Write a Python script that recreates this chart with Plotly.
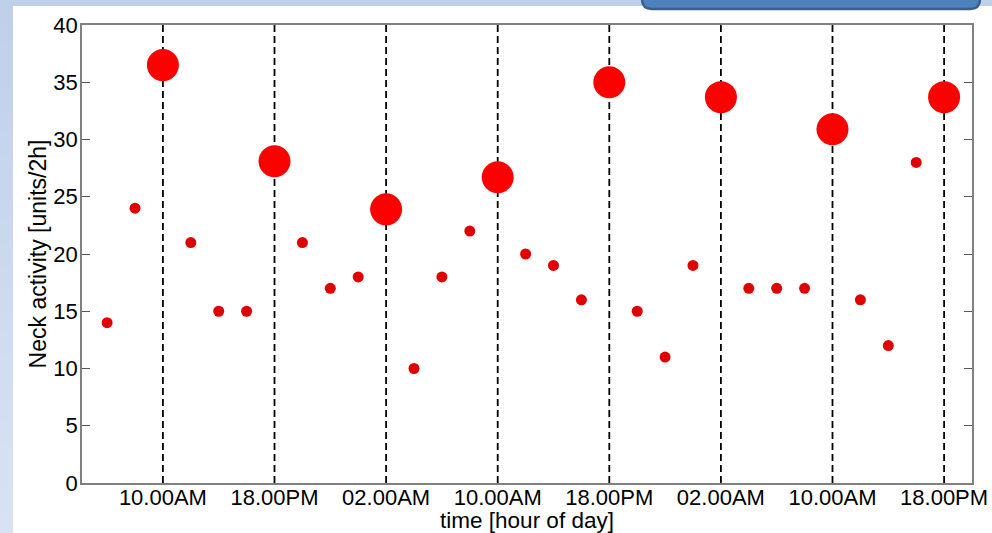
import plotly.graph_objects as go

# hours relative to first 10.00AM
small_hours = [-4, -2, 2, 4, 6, 10, 12, 14, 18, 20, 22, 26, 28, 30,
               34, 36, 38, 42, 44, 46, 50, 52, 54]
small_values = [14, 24, 21, 15, 15, 21, 17, 18, 10, 18, 22, 20, 19, 16,
                15, 11, 19, 17, 17, 17, 16, 12, 28]
big_hours = [0, 8, 16, 24, 32, 40, 48, 56]
big_values = [36.5, 28.1, 23.9, 26.7, 35.0, 33.7, 30.9, 33.7]
tick_hours = [0, 8, 16, 24, 32, 40, 48, 56]
tick_labels = ["10.00AM", "18.00PM", "02.00AM", "10.00AM",
               "18.00PM", "02.00AM", "10.00AM", "18.00PM"]

W, H = 992, 533
L, R, T, B = 82, 20, 25, 50
PW, PH = W - L - R, H - T - B

def px(x):
    return (x - L) / PW

def py(y):
    return (H - B - y) / PH

FONT = "Liberation Sans, Arial, Helvetica, sans-serif"

fig = go.Figure()
fig.add_trace(go.Scatter(x=small_hours, y=small_values, mode="markers",
                         marker=dict(size=11, color="#e00000", line=dict(width=0)),
                         showlegend=False, hoverinfo="x+y"))
fig.add_trace(go.Scatter(x=big_hours, y=big_values, mode="markers",
                         marker=dict(size=32, color="#ff0000", line=dict(width=0)),
                         showlegend=False, hoverinfo="x+y"))

shapes = []
# left background gradient strip (light blue)
n = 24
top_c = (192, 208, 234)
bot_c = (216, 226, 244)
for i in range(n):
    f = i / (n - 1)
    c = tuple(int(round(top_c[k] + (bot_c[k] - top_c[k]) * f)) for k in range(3))
    y0 = i * H / n
    y1 = (i + 1) * H / n + 1
    shapes.append(dict(type="rect", xref="paper", yref="paper",
                       x0=px(0), x1=px(13), y0=py(y1), y1=py(y0),
                       fillcolor="rgb(%d,%d,%d)" % c, line=dict(width=0), layer="below"))
# top strip
shapes.append(dict(type="rect", xref="paper", yref="paper",
                   x0=px(0), x1=px(W), y0=py(6), y1=py(0),
                   fillcolor="rgb(192,208,234)", line=dict(width=0), layer="below"))
# white panel
shapes.append(dict(type="rect", xref="paper", yref="paper",
                   x0=px(13), x1=px(W), y0=py(H), y1=py(6),
                   fillcolor="white", line=dict(width=0), layer="below"))
# top-right rounded blue box (partially visible)
bx0, bx1, by0, by1, r = 642, 980, -20, 9, 10
path = ("M {a},{b} L {c},{b} L {c},{d} Q {c},{e} {f},{e} L {g},{e} Q {a},{e} {a},{d} Z").format(
    a=px(bx0), b=py(by0), c=px(bx1), d=py(by1 - r), e=py(by1), f=px(bx1 - r), g=px(bx0 + r))
shapes.append(dict(type="path", xref="paper", yref="paper", path=path,
                   fillcolor="#4f81bd", line=dict(color="#3a5f8c", width=2.5), layer="above"))
# dashed vertical lines at tick hours
for h in tick_hours:
    shapes.append(dict(type="line", xref="x", yref="paper", x0=h, x1=h, y0=0, y1=1,
                       line=dict(color="black", width=1.8, dash="7px,4px"), layer="below"))

fig.update_layout(
    width=W, height=H,
    margin=dict(l=L, r=R, t=T, b=B),
    paper_bgcolor="white",
    plot_bgcolor="white",
    shapes=shapes,
    font=dict(family=FONT, size=22, color="black"),
    xaxis=dict(range=[-5.8, 58], tickvals=tick_hours, ticktext=tick_labels,
               showgrid=False, zeroline=False, showline=True, linecolor="#808080",
               linewidth=1.5, mirror=True, ticks="", tickfont=dict(size=22),
               ticklabelstandoff=-6, automargin=False,
               title=dict(text="time [hour of day]", font=dict(size=22.5), standoff=0)),
    yaxis=dict(range=[0, 40], tickvals=[0, 5, 10, 15, 20, 25, 30, 35, 40],
               showgrid=False, zeroline=False, showline=True, linecolor="#808080",
               linewidth=1.5, mirror="ticks", ticks="inside", ticklen=8,
               tickcolor="#555555", tickwidth=1, tickfont=dict(size=22),
               ticklabelstandoff=-2, automargin=False,
               title=dict(text="Neck activity [units/2h]", font=dict(size=23), standoff=0)),
)

fig.write_html("out.html", config={"displayModeBar": False},
               post_script="document.body.style.margin='0';document.body.style.overflow='hidden';")
